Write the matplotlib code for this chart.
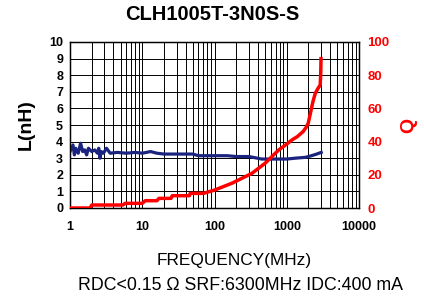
import matplotlib
matplotlib.use("Agg")
import matplotlib.pyplot as plt
from matplotlib.ticker import LogLocator, NullFormatter

plt.rcParams['font.family'] = ['Liberation Sans', 'DejaVu Sans']

# Inductance data (MHz, nH)
l_freq = [1.0, 1.1, 1.15, 1.2, 1.3, 1.4, 1.5, 1.6, 1.7, 1.8, 2.0, 2.2, 2.4, 2.5, 2.6, 2.7, 2.9, 3.2, 3.6,
          4.5, 6, 8, 10, 13, 16, 20, 30, 50, 60, 80, 100, 150, 200, 300, 450, 600, 800, 1000,
          1300, 1800, 2200, 2600, 3000]
l_vals = [3.4, 3.8, 3.2, 3.6, 3.3, 3.9, 3.4, 3.5, 3.2, 3.6, 3.4, 3.5, 3.3, 3.6, 3.0, 3.4, 3.3, 3.6, 3.3,
          3.35, 3.3, 3.35, 3.3, 3.4, 3.3, 3.25, 3.25, 3.25, 3.15, 3.15, 3.15, 3.15, 3.1, 3.1, 2.95, 2.95, 2.95, 2.95,
          3.0, 3.05, 3.15, 3.25, 3.35]

# Q data (MHz, Q)
q_freq = [1.0, 1.9, 2.0, 5.4, 5.8, 10, 11, 16, 17, 25, 26, 45, 46, 70, 100, 174, 330, 500, 775,
          1000, 1180, 1400, 1680, 1850, 1980, 2100, 2300, 2480, 2700, 2900, 2950, 2980]
q_vals = [0, 0, 1.8, 1.8, 2.8, 2.8, 4.4, 4.4, 5.8, 5.8, 7.4, 7.4, 8.8, 8.8, 10.8, 14.9, 20.9, 26.9, 35,
          38.5, 41, 43, 46, 48.5, 51, 56, 64, 69, 72, 74, 80, 90]

title = "CLH1005T-3N0S-S"
xlabel = "FREQUENCY(MHz)"
note = "RDC<0.15 \u03a9 SRF:6300MHz IDC:400 mA"
x_ticks = [1, 10, 100, 1000, 10000]
x_ticklabels = ["1", "10", "100", "1000", "10000"]
l_ticks = list(range(0, 11))
q_ticks = [0, 20, 40, 60, 80, 100]

fig = plt.figure(figsize=(4.24, 2.97), dpi=100)
ax = fig.add_axes([70/424, 1-208/297, (359-70)/424, (208-42)/297])
ax.set_xscale('log')
ax.set_xlim(1, 10000)
ax.set_ylim(0, 10)
ax.set_xticks(x_ticks)
ax.set_xticklabels(x_ticklabels, fontsize=9, fontweight='bold')
ax.xaxis.set_minor_locator(LogLocator(base=10, subs=range(2, 10)))
ax.xaxis.set_minor_formatter(NullFormatter())
ax.set_yticks(l_ticks)
ax.set_yticklabels([str(t) for t in l_ticks], fontsize=9, fontweight='bold')
ax.grid(True, which='both', axis='x', color='black', linewidth=0.7)
ax.grid(True, which='major', axis='y', color='black', linewidth=0.7)
ax.tick_params(axis='x', which='both', length=0, pad=9)
ax.tick_params(axis='y', which='both', length=0, pad=5)
for s in ax.spines.values():
    s.set_linewidth(1.0)
ax.set_ylabel("L(nH)", fontsize=14, fontweight='bold', labelpad=10)

ax.plot(l_freq, l_vals, color='#1a237e', linewidth=2.3, zorder=3)

ax2 = ax.twinx()
ax2.set_ylim(0, 100)
ax2.set_yticks(q_ticks)
ax2.set_yticklabels([str(t) for t in q_ticks], fontsize=9.5, fontweight='bold', color='#ff0000')
ax2.tick_params(axis='y', length=0, pad=6)
ax2.set_ylabel("Q", fontsize=14, fontweight='bold', color='#ff0000', rotation=90, labelpad=8)
ax2.plot(q_freq, q_vals, color='#ff0000', linewidth=2.5, zorder=3)

fig.text(0.5, 1-14/297, title, ha='center', va='center', fontsize=14.5, fontweight='bold')
fig.text(234/424, 1-261/297, xlabel, ha='center', va='center', fontsize=12.4)
fig.text(240/424, 1-285/297, note, ha='center', va='center', fontsize=12.8)

fig.savefig("out.png", dpi=100)
